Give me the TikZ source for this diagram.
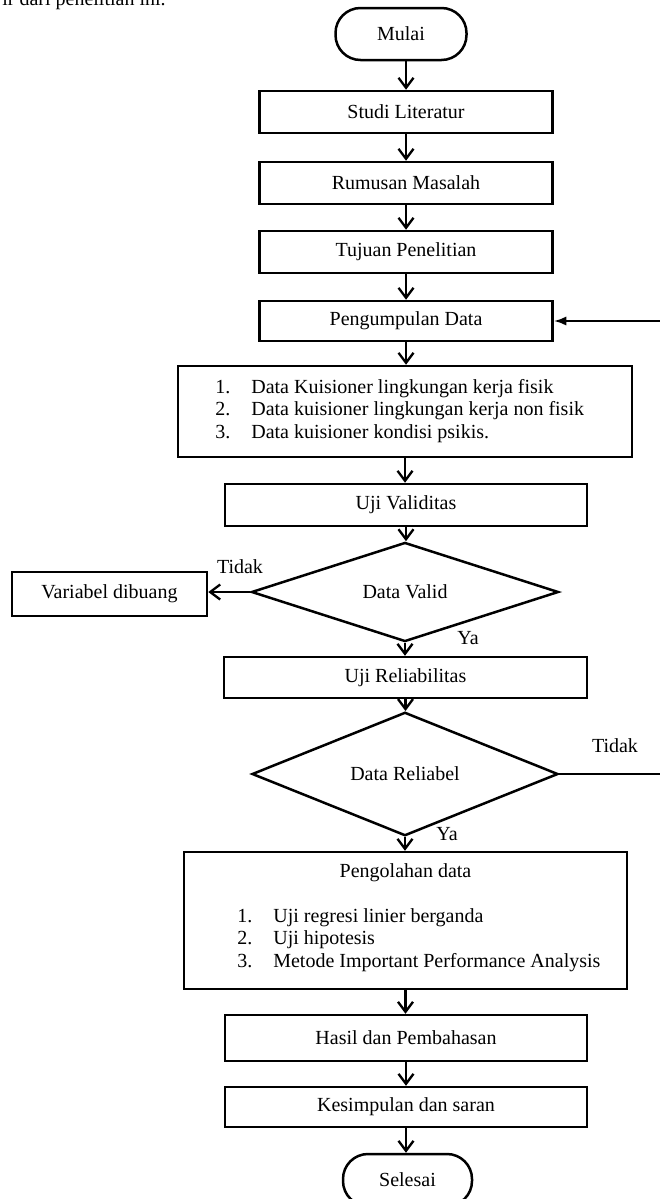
\documentclass[tikz,border=0pt]{standalone}
\usepackage{fontspec}
\setmainfont{Liberation Serif}
\usepackage{tikz}
\usetikzlibrary{shapes,arrows}
\usetikzlibrary{arrows.meta}

\tikzset{
	txt/.style={font=\fontsize{12}{13.5}\selectfont},
	box/.style={txt, draw, line width=1.5pt, rectangle, inner sep=0pt, minimum width=175.8pt, minimum height=25.2pt},
	term/.style={box, rounded corners=15pt, minimum width=78.6pt, minimum height=31.2pt},
	decision/.style={txt, draw, line width=1.5pt, diamond, inner sep=0pt},
	lbl/.style={txt, inner sep=0pt},
	flow/.style={line width=1.4pt, -{Straight Barb[length=6pt,width=9pt,line width=1.4pt]}}
}

\begin{document}
\begin{tikzpicture}[x=0.6pt,y=-0.6pt]

	\useasboundingbox (0,0) rectangle (660,1199);
	\clip (0,0) rectangle (660,1199);

	% Draw caption fragment
	\node[lbl, anchor=base west] (kutipan) at (2,5) {ir dari penelitian ini.};

	% Draw boxes
	\node[term] (mulai) at (401,34) {Mulai};
	\node[box] (studi) at (406,112) {Studi Literatur};
	\node[box] (rumusan) at (406,183) {Rumusan Masalah};
	\node[box] (tujuan) at (406,252) {Tujuan Penelitian};
	\node[box, minimum height=24pt] (kumpul) at (406,321) {Pengumpulan Data};
	\node[box, minimum width=272.4pt, minimum height=54.6pt] (kuisioner) at (405,411.5) {};
	\node[lbl, anchor=west] (kuisionerisi) at (215,411) {\begin{tabular}{@{}p{21.6pt}@{}l@{}}
		1. & Data Kuisioner lingkungan kerja fisik\\
		2. & Data kuisioner lingkungan kerja non fisik\\
		3. & Data kuisioner kondisi psikis.
	\end{tabular}};
	\node[box, minimum width=217.2pt] (validitas) at (406,505) {Uji Validitas};
	\node[decision, minimum width=184.2pt, minimum height=46.8pt] (valid) at (405,592) {Data Valid};
	\node[box, minimum width=117pt, minimum height=26.4pt] (buang) at (109.5,594) {Variabel dibuang};
	\node[box, minimum width=217.8pt, minimum height=24.6pt] (reliabilitas) at (405.5,677.5) {Uji Reliabilitas};
	\node[decision, minimum width=183.6pt, minimum height=61.2pt] (reliabel) at (405,774) {Data Reliabel};
	\node[box, minimum width=265.8pt, minimum height=82.2pt] (olah) at (405.5,920.5) {};
	\node[lbl] (olahjudul) at (405.5,873) {Pengolahan data};
	\node[lbl, anchor=west] (olahisi) at (237,940) {\begin{tabular}{@{}p{21.6pt}@{}l@{}}
		1. & Uji regresi linier berganda\\
		2. & Uji hipotesis\\
		3. & Metode Important Performance Analysis
	\end{tabular}};
	\node[box, minimum width=217.2pt, minimum height=27.6pt] (hasil) at (406,1038) {Hasil dan Pembahasan};
	\node[box, minimum width=217.2pt, minimum height=24pt] (simpul) at (406,1107) {Kesimpulan dan saran};
	\node[term, minimum width=77.4pt] (selesai) at (407.5,1180) {Selesai};

	% Draw labels
	\node[lbl] (tidakvalid) at (240,567) {Tidak};
	\node[lbl] (yavalid) at (468,638) {Ya};
	\node[lbl] (tidakreliabel) at (615,746) {Tidak};
	\node[lbl] (yareliabel) at (447,834) {Ya};

	% Draw arrows
	\draw[flow] (mulai.south -| studi.north) -- (studi.north);
	\draw[flow] (studi.south) -- (rumusan.north);
	\draw[flow] (rumusan.south) -- (tujuan.north);
	\draw[flow] (tujuan.south) -- (kumpul.north);
	\draw[flow] (kumpul.south) -- (kumpul.south |- kuisioner.north);
	\draw[flow] (kuisioner.south) -- (kuisioner.south |- validitas.north);
	\draw[flow] (validitas.south) -- (validitas.south |- valid.north);
	\draw[flow] (valid.west) -- (valid.west -| buang.east);
	\draw[flow] (valid.south) -- (valid.south |- reliabilitas.north);
	\draw[flow] (reliabilitas.south) -- (reliabilitas.south |- reliabel.north);
	\draw[flow] (reliabel.south) -- (reliabel.south |- olah.north);
	\draw[flow] (olah.south) -- (olah.south |- hasil.north);
	\draw[flow] (hasil.south) -- (simpul.north);
	\draw[flow] (simpul.south) -- (simpul.south |- selesai.north);

	% Draw loop back to data collection
	\coordinate (kanan) at (664,774);
	\coordinate (balik) at (664,321);
	\draw[line width=1.4pt] (reliabel.east) -- (kanan);
	\draw[line width=1.4pt, -{Latex[length=7.5pt,width=5.5pt]}] (balik) -- (kumpul.east);

\end{tikzpicture}
\end{document}
